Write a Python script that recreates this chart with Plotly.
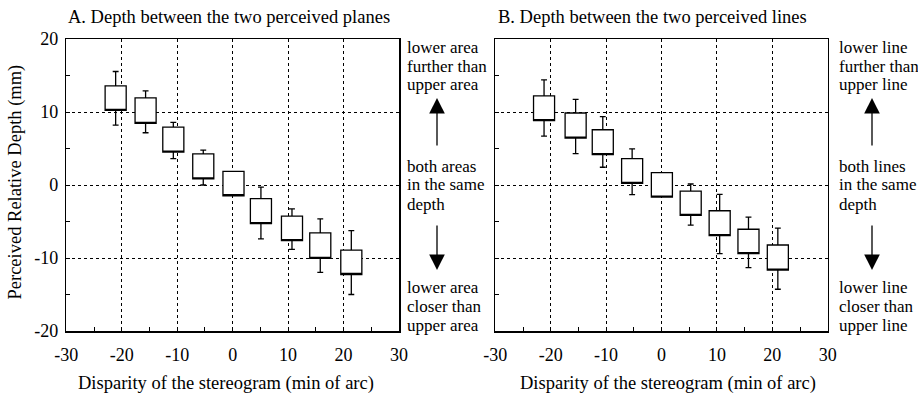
import plotly.graph_objects as go
from plotly.subplots import make_subplots

# ---- data ----
disparity_a = [-21.1, -15.7, -10.7, -5.3, 0.15, 5.1, 10.7, 15.8, 21.4]
box_hi_a = [13.58, 11.93, 7.94, 4.27, 1.88, -1.88, -4.27, -6.57, -8.91]
box_lo_a = [10.23, 8.44, 4.50, 0.83, -1.47, -5.28, -7.61, -10.06, -12.26]
whisk_hi_a = [15.55, 12.89, 8.58, 4.77, 1.88, -0.28, -3.26, -4.64, -6.25]
whisk_lo_a = [8.21, 7.16, 3.62, 0.0, -1.47, -7.39, -8.81, -11.98, -15.0]

disparity_b = [-21.2, -15.5, -10.6, -5.3, 0.07, 5.27, 10.5, 15.7, 21.0]
box_hi_b = [12.2, 9.86, 7.57, 3.62, 1.70, -0.83, -3.53, -6.06, -8.22]
box_lo_b = [8.81, 6.42, 4.17, 0.23, -1.65, -4.17, -6.93, -9.40, -11.67]
whisk_hi_b = [14.4, 11.74, 9.36, 4.95, 1.70, 0.14, -1.28, -4.40, -5.92]
whisk_lo_b = [6.70, 4.31, 2.43, -1.33, -1.65, -5.50, -9.40, -11.33, -14.28]

x_ticks = [-30, -20, -10, 0, 10, 20, 30]
x_tick_labels = ["-30", "-20", "-10", "0", "10", "20", "30"]
y_ticks = [-20, -10, 0, 10, 20]
y_tick_labels = ["-20", "-10", "0", "10", "20"]

title_a = "A. Depth between the two perceived planes"
title_b = "B. Depth between the two perceived lines"
x_title = "Disparity of the stereogram (min of arc)"
y_title = "Perceived Relative Depth (mm)"
notes_a = ["lower area", "further than", "upper area",
           "both areas", "in the same", "depth",
           "lower area", "closer than", "upper area"]
notes_b = ["lower line", "further than", "upper line",
           "both lines", "in the same", "depth",
           "lower line", "closer than", "upper line"]

FONT = "Liberation Serif"
W, H = 918, 399

fig = make_subplots(rows=1, cols=2)

for col, (xs, lo, hi, wl, wh) in enumerate([
        (disparity_a, box_lo_a, box_hi_a, whisk_lo_a, whisk_hi_a),
        (disparity_b, box_lo_b, box_hi_b, whisk_lo_b, whisk_hi_b)], start=1):
    fig.add_trace(go.Box(
        x=xs, q1=lo, median=lo, q3=hi, lowerfence=wl, upperfence=wh,
        width=3.8, whiskerwidth=0.28, fillcolor="white",
        line=dict(color="black", width=1.3), boxpoints=False,
        showlegend=False, hoverinfo="skip"), row=1, col=col)

axis_common = dict(showline=True, mirror=True, linecolor="black", linewidth=1.5,
                   showgrid=True, gridcolor="black", griddash="dot", gridwidth=1,
                   zeroline=False, ticks="inside", ticklen=0, automargin=False,
                   tickfont=dict(family=FONT, size=18, color="black"),
                   minor=dict(dtick=5, ticks="inside", ticklen=4, tickcolor="black",
                              showgrid=False))

ydom = [1 - 331 / H, 1 - 39 / H]
fig.update_xaxes(**axis_common, range=[-30, 30], tickvals=x_ticks, ticktext=x_tick_labels,
                 ticklabelstandoff=7)
fig.update_yaxes(**axis_common, range=[-20, 20], tickvals=y_ticks, ticktext=y_tick_labels,
                 domain=ydom, ticklabelstandoff=3)
fig.update_layout(
    xaxis=dict(domain=[66.3 / W, 399 / W]),
    xaxis2=dict(domain=[495.3 / W, 827.7 / W]),
    yaxis2=dict(showticklabels=False),
)

ann = []
# panel titles
ann.append(dict(text=title_a, x=66 / W, y=1 - 17 / H, xanchor="left", yanchor="middle"))
ann.append(dict(text=title_b, x=496 / W, y=1 - 17 / H, xanchor="left", yanchor="middle"))
# axis titles
ann.append(dict(text=x_title, x=226 / W, y=1 - 383 / H, xanchor="center", yanchor="middle"))
ann.append(dict(text=x_title, x=668 / W, y=1 - 383 / H, xanchor="center", yanchor="middle"))
ann.append(dict(text=y_title, x=15 / W, y=1 - 182.5 / H, xanchor="center", yanchor="middle",
                textangle=-90))
for a in ann:
    a.update(xref="paper", yref="paper", showarrow=False,
             font=dict(family=FONT, size=18.5, color="black"))

# side notes, one annotation per line
line_y = [47, 66, 85, 166, 185, 204, 287, 306, 325]
for left, notes in [(405, notes_a), (837, notes_b)]:
    for note, yc in zip(notes, line_y):
        ann.append(dict(text=note, x=left / W, y=1 - yc / H, xref="paper", yref="paper",
                        xanchor="left", yanchor="middle", align="left", showarrow=False,
                        font=dict(family=FONT, size=17, color="black")))

# arrows
for xc in [437, 872]:
    ann.append(dict(text="", x=xc / W, y=1 - 98 / H, xref="paper", yref="paper",
                    ax=0, ay=49, showarrow=True, arrowhead=2, arrowsize=2.4, arrowwidth=1.3,
                    arrowcolor="black"))
    ann.append(dict(text="", x=xc / W, y=1 - 270 / H, xref="paper", yref="paper",
                    ax=0, ay=-46, showarrow=True, arrowhead=2, arrowsize=2.4, arrowwidth=1.3,
                    arrowcolor="black"))

fig.update_layout(annotations=ann, width=W, height=H,
                  margin=dict(l=0, r=0, t=0, b=0),
                  paper_bgcolor="white", plot_bgcolor="white",
                  font=dict(family=FONT, color="black"))

fig.write_html("out.html",
               config={"displayModeBar": False, "staticPlot": True},
               post_script="document.body.style.margin='0';"
                           "document.body.style.overflow='hidden';")
